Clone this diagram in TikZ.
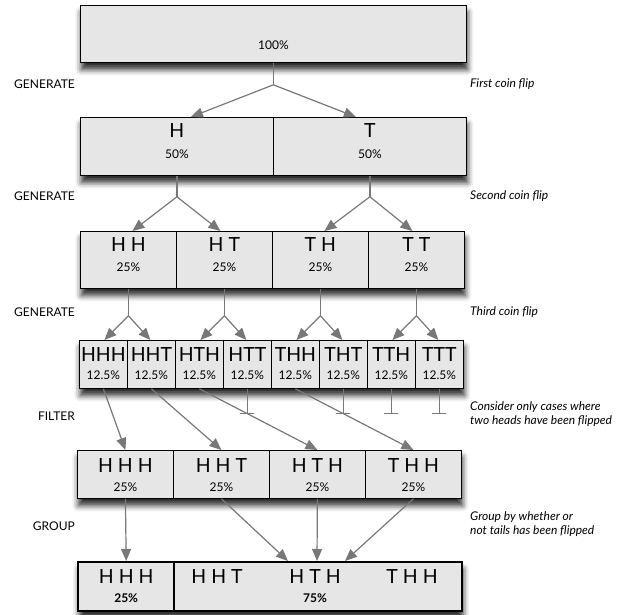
\documentclass[tikz,border=0pt]{standalone}
\usepackage{fontspec}
\setmainfont{Lato}
\usetikzlibrary{arrows.meta,shadows.blur,calc}
\definecolor{cellfill}{HTML}{E6E6E6}
\definecolor{conn}{HTML}{787878}
\newcommand\bigtxt{\fontsize{19.5}{20}\selectfont}
\newcommand\pcttxt{\fontsize{12}{13}\selectfont}
\tikzset{
  rowbg/.style={draw=black, line width=0.8pt, fill=cellfill, inner sep=0pt, anchor=north west,
    blur shadow={shadow xshift=1pt, shadow yshift=-7pt, shadow blur radius=6pt, shadow opacity=85}},
  cellbox/.style={draw=black, line width=0.8pt, fill=cellfill, inner sep=0pt, anchor=north west},
  thickcell/.style={cellbox, line width=2.4pt},
  bigt/.style={inner sep=0pt, font=\bigtxt},
  pctt/.style={inner sep=0pt, font=\pcttxt},
  leftlab/.style={anchor=east, inner sep=0pt, font=\fontsize{12}{14}\selectfont},
  rightlab/.style={anchor=west, inner sep=0pt, align=left, font=\fontsize{12}{14}\selectfont\itshape},
  conn/.style={draw=conn, line width=1.2pt},
  arr/.style={conn, -{Triangle[length=12pt,width=10pt]}},
  blocked/.style={conn, -{Bar[width=14pt,line width=1.2pt]}},
}
\begin{document}
\begin{tikzpicture}[x=1pt,y=-1pt]
\useasboundingbox (0,0) rectangle (622,615);

% ---------- row 1
\node[rowbg, minimum width=386pt, minimum height=57pt] (r1) at (80,5) {};
\node[pctt] (r1t) at ($(r1.north)+(0,40)$) {100\%};

% ---------- row 2
\node[rowbg, minimum width=386pt, minimum height=58pt] (r2) at (80,117) {};
\node[cellbox, minimum width=193pt, minimum height=58pt] (h) at (80,117) {};
\node[cellbox, minimum width=193pt, minimum height=58pt] (t) at (273,117) {};
\foreach \c/\l in {h/H, t/T}{
  \node[bigt] (\c b) at ($(\c.north)+(0,14)$) {\l};
  \node[pctt] (\c p) at ($(\c.north)+(0,37)$) {50\%};
}

% ---------- row 3
\node[rowbg, minimum width=384pt, minimum height=57pt] (r3) at (80,231) {};
\foreach \c/\l [count=\i from 0] in {hh/H H, ht/H T, th/T H, tt/T T}{
  \node[cellbox, minimum width=96pt, minimum height=57pt] (\c) at (80+96*\i,231) {};
  \node[bigt] (\c b) at ($(\c.north)+(0,14)$) {\l};
  \node[pctt] (\c p) at ($(\c.north)+(0,36)$) {25\%};
}

% ---------- row 4
\node[rowbg, minimum width=384pt, minimum height=48pt] (r4) at (79,340) {};
\foreach \c/\l [count=\i from 0] in {hhh/HHH, hht/HHT, hth/HTH, htt/HTT, thh/THH, tht/THT, tth/TTH, ttt/TTT}{
  \node[cellbox, minimum width=48pt, minimum height=48pt] (\c) at (79+48*\i,340) {};
  \node[bigt] (\c b) at ($(\c.north)+(0,15)$) {\l};
  \node[pctt] (\c p) at ($(\c.north)+(0,35)$) {12.5\%};
}

% ---------- row 5
\node[rowbg, minimum width=384pt, minimum height=48pt] (r5) at (77,450) {};
\foreach \c/\l [count=\i from 0] in {fhhh/H H H, fhht/H H T, fhth/H T H, fthh/T H H}{
  \node[cellbox, minimum width=96pt, minimum height=48pt] (\c) at (77+96*\i,450) {};
  \node[bigt] (\c b) at ($(\c.north)+(0,16)$) {\l};
  \node[pctt] (\c p) at ($(\c.north)+(0,37)$) {25\%};
}

% ---------- row 6
\node[rowbg, line width=2.4pt, minimum width=384pt, minimum height=49pt] (r6) at (77,561) {};
\node[thickcell, minimum width=96pt, minimum height=49pt] (g1) at (77,561) {};
\node[thickcell, minimum width=288pt, minimum height=49pt] (g2) at (173,561) {};
\node[bigt] (g1b) at ($(g1.north)+(0,16)$) {H H H};
\node[pctt, font=\pcttxt\bfseries] (g1p) at ($(g1.north)+(0,37)$) {25\%};
\node[bigt] (g2a) at ($(g2.north west)+(44,16)$) {H H T};
\node[bigt] (g2b) at ($(g2.north west)+(142,16)$) {H T H};
\node[bigt] (g2c) at ($(g2.north west)+(239,16)$) {T H H};
\node[pctt, font=\pcttxt\bfseries] (g2p) at ($(g2.north west)+(142,37)$) {75\%};

% ---------- labels
\node[leftlab] (l1) at (75,84) {GENERATE};
\node[leftlab] (l2) at (75,196) {GENERATE};
\node[leftlab] (l3) at (75,312) {GENERATE};
\node[leftlab] (l4) at (75,416) {FILTER};
\node[leftlab] (l5) at (75,526) {GROUP};
\node[rightlab] (rl1) at (470,84) {First coin flip};
\node[rightlab] (rl2) at (470,196) {Second coin flip};
\node[rightlab] (rl3) at (470,312) {Third coin flip};
\node[rightlab] (rl4) at (470,414) {Consider only cases where\\two heads have been flipped};
\node[rightlab] (rl5) at (470,524) {Group by whether or\\not tails has been flipped};

% ---------- connectors row1 -> row2
\coordinate (b1) at ($(r1.south)+(0,22)$);
\coordinate (e1a) at ($(h.north)+(14,0)$);
\coordinate (e1b) at ($(t.north)+(-14,0)$);
\draw[conn] (r1.south) -- (b1);
\draw[arr] (b1) -- (e1a);
\draw[arr] (b1) -- (e1b);

% row2 -> row3
\foreach \p/\a/\b in {h/hh/ht, t/th/tt}{
  \coordinate (b2\p) at ($(\p.south)+(0,21)$);
  \coordinate (e2\p a) at ($(\a.north)+(4,0)$);
  \coordinate (e2\p b) at ($(\b.north)+(-4,0)$);
  \draw[conn] (\p.south) -- (b2\p);
  \draw[arr] (b2\p) -- (e2\p a);
  \draw[arr] (b2\p) -- (e2\p b);
}

% row3 -> row4
\foreach \p/\a/\b in {hh/hhh/hht, ht/hth/htt, th/thh/tht, tt/tth/ttt}{
  \coordinate (b3\p) at ($(\p.south)+(0,27)$);
  \coordinate (e3\p a) at ($(\a.north)+(1,0)$);
  \coordinate (e3\p b) at ($(\b.north)+(-1,0)$);
  \draw[conn] (\p.south) -- (b3\p);
  \draw[arr] (b3\p) -- (e3\p a);
  \draw[arr] (b3\p) -- (e3\p b);
}

% filter
\foreach \c in {htt, tht, tth, ttt}{
  \coordinate (x\c) at ($(\c.south)+(0,25)$);
  \draw[blocked] (\c.south) -- (x\c);
}
\draw[arr] (hhh.south) -- (fhhh.north);
\draw[arr] (hht.south) -- (fhht.north);
\draw[arr] (hth.south) -- (fhth.north);
\draw[arr] (thh.south) -- (fthh.north);

% group
\coordinate (e6a) at ($(g2.north west)+(115,0)$);
\coordinate (e6b) at ($(g2.north west)+(144,0)$);
\coordinate (e6c) at ($(g2.north west)+(172,0)$);
\draw[arr] (fhhh.south) -- (g1.north);
\draw[arr] (fhht.south) -- (e6a);
\draw[arr] (fhth.south) -- (e6b);
\draw[arr] (fthh.south) -- (e6c);
\end{tikzpicture}
\end{document}
